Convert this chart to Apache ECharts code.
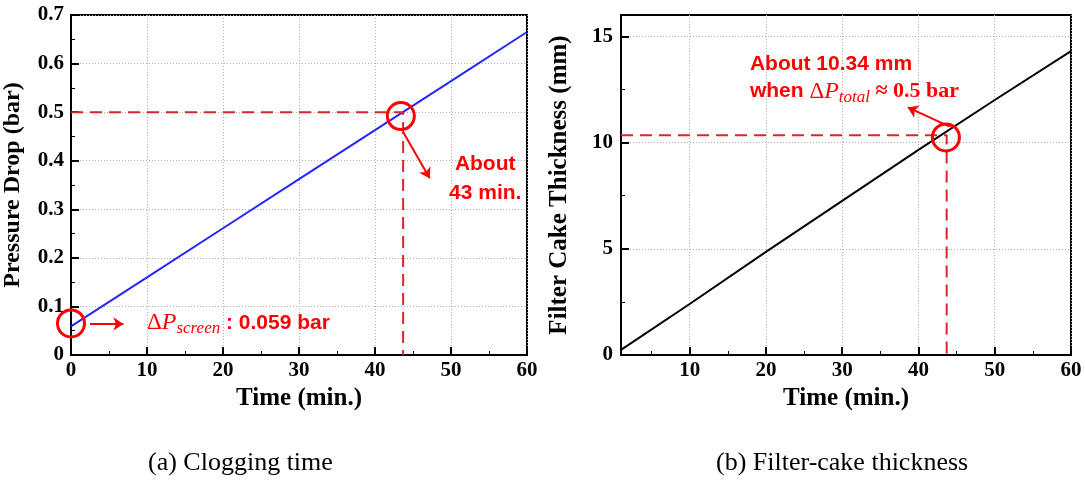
<!DOCTYPE html>
<html>
<head>
<meta charset="utf-8">
<script src="https://cdn.jsdelivr.net/npm/echarts@6/dist/echarts.min.js"></script>
<style>
  html, body { margin: 0; padding: 0; background: #fff; }
  #main { width: 1085px; height: 484px; }
</style>
</head>
<body>
<div id="main"></div>
<script>
// 数据 (a) 压降随时间
var timeA = [0, 10, 20, 30, 40, 50, 60];
var pressure = [0.059, 0.160, 0.261, 0.362, 0.463, 0.564, 0.665];
// 数据 (b) 滤饼厚度随时间
var timeB = [1, 10, 20, 30, 40, 50, 60];
var thickness = [0.24, 2.4, 4.85, 7.25, 9.65, 12.0, 14.3];
// 刻度
var ticksB_x = [10, 20, 30, 40, 50, 60];
var minorB_x = [5, 15, 25, 35, 45, 55];
var ticksB_y = [0, 5, 10, 15];
var minorB_y = [2.5, 7.5, 12.5];
// 标注点
var clogTime = 43.7, clogP = 0.5;
var cakeTime = 43.7, cakeT = 10.34;
var circlesA = [[0, 0.065], [43.4, 0.492]];
var circlesB = [[43.6, 10.24]];
var arrowsA = [[[2.5, 0.064], [6.9, 0.064]], [[43.7, 0.459], [47.2, 0.364]]];
var arrowsB = [[[44.1, 10.75], [38.6, 11.65]]];

var RED = '#ff0000';
var DASH = '#d8262b';
var serif = '"Liberation Serif", "Times New Roman", serif';
var sans = '"Liberation Sans", Arial, sans-serif';

var myChart = echarts.init(document.getElementById('main'));

function axisBase() {
    return {
        axisLine: { show: true, onZero: false, lineStyle: { color: '#000', width: 2 } },
        axisTick: { show: true, inside: true, length: 8, lineStyle: { color: '#000', width: 2 } },
        minorTick: { show: true, splitNumber: 2, length: 4, lineStyle: { color: '#000', width: 1 } },
        axisLabel: { color: '#000', fontFamily: serif, fontWeight: 'bold', fontSize: 21 },
        splitLine: { show: true, lineStyle: { color: '#b0b0b0', type: [1, 2], width: 1 } },
        nameTextStyle: { color: '#000', fontFamily: serif, fontWeight: 'bold', fontSize: 25 }
    };
}

var xA = Object.assign(axisBase(), {
    type: 'value', gridIndex: 0, min: 0, max: 60, interval: 10,
    name: 'Time (min.)', nameLocation: 'middle', nameGap: 30
});
xA.axisLabel.margin = 5;
var yA = Object.assign(axisBase(), {
    type: 'value', gridIndex: 0, min: 0, max: 0.7, interval: 0.1,
    name: 'Pressure Drop (bar)', nameLocation: 'middle', nameGap: 46
});
yA.axisLabel.margin = 7;
yA.nameTextStyle.fontSize = 24;

var xB = Object.assign(axisBase(), {
    type: 'value', gridIndex: 1, min: 1, max: 60,
    name: 'Time (min.)', nameLocation: 'middle', nameGap: 30
});
xB.axisTick.customValues = ticksB_x;
xB.axisLabel.customValues = ticksB_x;
xB.axisLabel.margin = 5;
xB.minorTick = { show: false };
var xB2 = {
    type: 'value', gridIndex: 1, min: 1, max: 60, position: 'bottom',
    axisLine: { show: false }, axisLabel: { show: false }, splitLine: { show: false },
    axisTick: { show: true, inside: true, length: 4, customValues: minorB_x, lineStyle: { color: '#000', width: 1 } }
};
var yB = Object.assign(axisBase(), {
    type: 'value', gridIndex: 1, min: 0, max: 16,
    name: 'Filter Cake Thickness (mm)', nameLocation: 'middle', nameGap: 49
});
yB.axisTick.customValues = ticksB_y;
yB.axisLabel.customValues = ticksB_y;
yB.axisLabel.margin = 8;
yB.minorTick = { show: false };
var yB2 = {
    type: 'value', gridIndex: 1, min: 0, max: 16, position: 'left',
    axisLine: { show: false }, axisLabel: { show: false }, splitLine: { show: false },
    axisTick: { show: true, inside: true, length: 4, customValues: minorB_y, lineStyle: { color: '#000', width: 1 } }
};

var circleStyle = { color: 'rgba(0,0,0,0)', borderColor: RED, borderWidth: 3, opacity: 1 };

// 公式样式 ΔP 下标
var mathRich = {
    d: { color: RED, fontFamily: serif, fontSize: 23 },
    m: { color: RED, fontFamily: serif, fontStyle: 'italic', fontSize: 24 },
    s: { color: RED, fontFamily: serif, fontStyle: 'italic', fontSize: 17, padding: [12, 0, 0, 0] },
    b: { color: RED, fontFamily: sans, fontWeight: 'bold', fontSize: 21 },
    r: { color: RED, fontFamily: serif, fontWeight: 'bold', fontSize: 22 }
};

var option = {
    animation: false,
    grid: [
        { left: 71, top: 15, width: 456, height: 340, show: true, borderColor: '#000', borderWidth: 2, backgroundColor: 'transparent' },
        { left: 621, top: 15, width: 450, height: 340, show: true, borderColor: '#000', borderWidth: 2, backgroundColor: 'transparent' }
    ],
    xAxis: [xA, xB, xB2],
    yAxis: [yA, yB, yB2],
    series: [
        {
            type: 'line', xAxisIndex: 0, yAxisIndex: 0, symbol: 'none',
            lineStyle: { color: '#2626ff', width: 2 },
            data: timeA.map(function (t, i) { return [t, pressure[i]]; })
        },
        {
            type: 'line', xAxisIndex: 1, yAxisIndex: 1, symbol: 'none',
            lineStyle: { color: '#000', width: 2 },
            data: timeB.map(function (t, i) { return [t, thickness[i]]; })
        },
        // 虚线标注
        {
            type: 'line', xAxisIndex: 0, yAxisIndex: 0, symbol: 'none', z: 3,
            lineStyle: { color: DASH, width: 2, type: [12, 7] },
            data: [[0, clogP], [clogTime, clogP], [clogTime, 0]]
        },
        {
            type: 'line', xAxisIndex: 1, yAxisIndex: 1, symbol: 'none', z: 3,
            lineStyle: { color: DASH, width: 2, type: [12, 7] },
            data: [[1, cakeT], [cakeTime, cakeT], [cakeTime, 0]]
        },
        // 圆圈
        {
            type: 'scatter', xAxisIndex: 0, yAxisIndex: 0, symbolSize: 27, z: 5,
            itemStyle: circleStyle, data: circlesA
        },
        {
            type: 'scatter', xAxisIndex: 1, yAxisIndex: 1, symbolSize: 27, z: 5,
            itemStyle: circleStyle, data: circlesB
        },
        // 箭头
        {
            type: 'lines', coordinateSystem: 'cartesian2d', xAxisIndex: 0, yAxisIndex: 0, z: 5,
            symbol: ['none', 'arrow'], symbolSize: 10,
            lineStyle: { color: RED, width: 2, opacity: 1 },
            data: arrowsA.map(function (c) { return { coords: c }; })
        },
        {
            type: 'lines', coordinateSystem: 'cartesian2d', xAxisIndex: 1, yAxisIndex: 1, z: 5,
            symbol: ['none', 'arrow'], symbolSize: 10,
            lineStyle: { color: RED, width: 2, opacity: 1 },
            data: arrowsB.map(function (c) { return { coords: c }; })
        },
        // 文字标注
        {
            type: 'scatter', xAxisIndex: 0, yAxisIndex: 0, symbolSize: 0, z: 6,
            itemStyle: { opacity: 1 },
            data: [
                { value: [10, 0.066], label: {
                    show: true, position: 'right', distance: 0,
                    formatter: '{d|Δ}{m|P}{s|screen}{b| : 0.059 bar}',
                    rich: mathRich
                } },
                { value: [54.5, 0.362], label: {
                    show: true, position: 'inside', align: 'center', verticalAlign: 'middle',
                    formatter: 'About\n43 min.', color: RED, fontFamily: sans, fontWeight: 'bold',
                    fontSize: 21, lineHeight: 29
                } }
            ]
        },
        {
            type: 'scatter', xAxisIndex: 1, yAxisIndex: 1, symbolSize: 0, z: 6,
            itemStyle: { opacity: 1 },
            data: [
                { value: [17.9, 13.68], label: {
                    show: true, position: 'right', distance: 0,
                    formatter: '{b|About 10.34 mm}', rich: mathRich
                } },
                { value: [17.9, 12.4], label: {
                    show: true, position: 'right', distance: 0,
                    formatter: '{b|when }{d|Δ}{m|P}{s|total}{r| ≈ 0.5 bar}',
                    rich: mathRich
                } }
            ]
        }
    ],
    graphic: [
        { type: 'text', left: 148, top: 450, style: { text: '(a) Clogging time', fill: '#000', font: '26px ' + serif } },
        { type: 'text', left: 716, top: 450, style: { text: '(b) Filter-cake thickness', fill: '#000', font: '26px ' + serif } }
    ]
};

myChart.setOption(option);
</script>
</body>
</html>
